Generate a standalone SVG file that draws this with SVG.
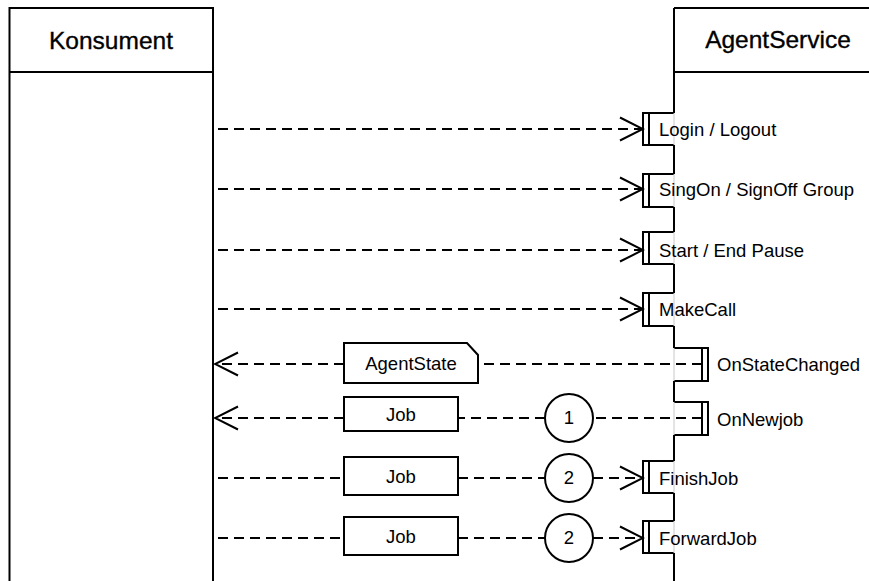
<svg xmlns="http://www.w3.org/2000/svg" width="869" height="581" viewBox="0 0 869 581">
  <defs>
    <style>
      .line { fill: none; stroke: #000; stroke-width: 2; }
      .dash { fill: none; stroke: #000; stroke-width: 2; stroke-dasharray: 10 6; }
      .box { fill: #fff; stroke: #000; stroke-width: 2; }
      .thin { fill: none; stroke: #c8c8c8; stroke-width: 1; }
      .head { font-family: "Liberation Sans", Arial, sans-serif; font-size: 24.5px; fill: #000; stroke: #000; stroke-width: 0.35; text-anchor: middle; }
      .lbl { font-family: "Liberation Sans", Arial, sans-serif; font-size: 18.5px; fill: #000; }
      .mid { text-anchor: middle; }
    </style>
    <marker id="open" viewBox="0 0 26 26" refX="24" refY="13" markerWidth="26" markerHeight="26" markerUnits="userSpaceOnUse" orient="auto">
      <path d="M1,1.5 L24,13 L1,24.5" fill="none" stroke="#000" stroke-width="2" stroke-dasharray="none"/>
    </marker>
  </defs>

  <rect width="869" height="581" fill="#fff"/>

  <!-- Konsument lifeline -->
  <g id="konsument">
    <path class="line" d="M9.5,581 V8 H213 V581 M9.5,72 H213"/>
    <text class="head" x="111" y="49">Konsument</text>
  </g>

  <!-- AgentService lifeline, interrupted by activations -->
  <g id="agentservice">
    <path class="line" d="M674,8 H875 M674,72 H875 M674,8 V113 M674,145 V174 M674,207 V232 M674,264 V293 M674,326 V348 M674,381 V402 M674,435 V461 M674,493 V521 M674,553 V581"/>
    <text class="head" x="778" y="48">AgentService</text>
  </g>

  <!-- activations, incoming on the left -->
  <g id="act-login">
    <path class="line" d="M674,113 H643 V145 H674 M649,113 V145"/>
    <path class="thin" d="M674,113 V145"/>
    <text class="lbl" x="659" y="136">Login / Logout</text>
  </g>
  <g id="act-signon">
    <path class="line" d="M674,174 H643 V207 H674 M649,174 V207"/>
    <path class="thin" d="M674,174 V207"/>
    <text class="lbl" x="659" y="196">SingOn / SignOff Group</text>
  </g>
  <g id="act-pause">
    <path class="line" d="M674,232 H643 V264 H674 M649,232 V264"/>
    <path class="thin" d="M674,232 V264"/>
    <text class="lbl" x="659" y="257">Start / End Pause</text>
  </g>
  <g id="act-makecall">
    <path class="line" d="M674,293 H643 V326 H674 M649,293 V326"/>
    <path class="thin" d="M674,293 V326"/>
    <text class="lbl" x="659" y="316">MakeCall</text>
  </g>
  <!-- activations, outgoing on the right -->
  <g id="act-statechanged">
    <path class="line" d="M674,348 H708 V381 H674 M702,348 V381"/>
    <path class="thin" d="M674,348 V381"/>
    <text class="lbl" x="717" y="371">OnStateChanged</text>
  </g>
  <g id="act-newjob">
    <path class="line" d="M674,402 H708 V435 H674 M702,402 V435"/>
    <path class="thin" d="M674,402 V435"/>
    <text class="lbl" x="717" y="426">OnNewjob</text>
  </g>
  <g id="act-finishjob">
    <path class="line" d="M674,461 H643 V493 H674 M649,461 V493"/>
    <path class="thin" d="M674,461 V493"/>
    <text class="lbl" x="659" y="485">FinishJob</text>
  </g>
  <g id="act-forwardjob">
    <path class="line" d="M674,521 H643 V553 H674 M649,521 V553"/>
    <path class="thin" d="M674,521 V553"/>
    <text class="lbl" x="659" y="545">ForwardJob</text>
  </g>

  <!-- messages -->
  <g id="connectors">
    <path class="dash" d="M218,129 H643" marker-end="url(#open)"/>
    <path class="dash" d="M218,189 H643" marker-end="url(#open)"/>
    <path class="dash" d="M218,250 H643" marker-end="url(#open)"/>
    <path class="dash" d="M218,309 H643" marker-end="url(#open)"/>
    <path class="dash" d="M702,364 H478"/>
    <path class="dash" d="M344,364 H215" marker-end="url(#open)"/>
    <path class="dash" d="M702,418 H593"/>
    <path class="dash" d="M545,418 H458"/>
    <path class="dash" d="M344,418 H215" marker-end="url(#open)"/>
    <path class="dash" d="M218,478 H344"/>
    <path class="dash" d="M458,478 H545"/>
    <path class="dash" d="M593,478 H643" marker-end="url(#open)"/>
    <path class="dash" d="M218,538 H344"/>
    <path class="dash" d="M458,538 H545"/>
    <path class="dash" d="M593,538 H643" marker-end="url(#open)"/>
  </g>

  <!-- payload objects -->
  <g id="note-agentstate">
    <path class="box" d="M344,343 H467 L478,355 V383 H344 Z"/>
    <text class="lbl mid" x="411" y="370">AgentState</text>
  </g>
  <g id="job-1">
    <rect class="box" x="344" y="397" width="114" height="34"/>
    <text class="lbl mid" x="401" y="421">Job</text>
  </g>
  <g id="job-2">
    <rect class="box" x="344" y="457" width="114" height="38"/>
    <text class="lbl mid" x="401" y="483">Job</text>
  </g>
  <g id="job-3">
    <rect class="box" x="344" y="517" width="114" height="38"/>
    <text class="lbl mid" x="401" y="543">Job</text>
  </g>

  <!-- sequence markers -->
  <g id="step-1">
    <circle class="box" cx="569" cy="418" r="24"/>
    <text class="lbl mid" x="569" y="424">1</text>
  </g>
  <g id="step-2a">
    <circle class="box" cx="569" cy="478" r="24"/>
    <text class="lbl mid" x="569" y="484">2</text>
  </g>
  <g id="step-2b">
    <circle class="box" cx="569" cy="538" r="24"/>
    <text class="lbl mid" x="569" y="544">2</text>
  </g>
</svg>
